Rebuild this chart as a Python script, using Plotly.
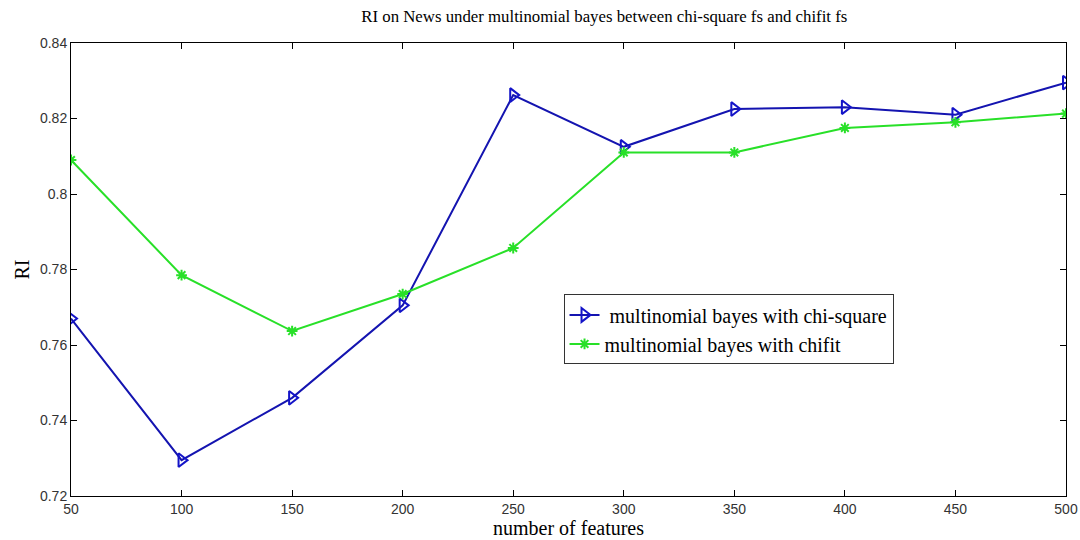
import plotly.graph_objects as go

features = [50, 100, 150, 200, 250, 300, 350, 400, 450, 500]
chi_square = [0.767, 0.7295, 0.746, 0.7705, 0.8262, 0.8125, 0.8225, 0.823, 0.821, 0.8295]
chifit = [0.809, 0.7785, 0.7637, 0.7735, 0.7857, 0.811, 0.811, 0.8175, 0.819, 0.8213]
y_ticks = [0.72, 0.74, 0.76, 0.78, 0.8, 0.82, 0.84]
y_tick_text = ["0.72", "0.74", "0.76", "0.78", "0.8", "0.82", "0.84"]

serif = "Liberation Serif, Times New Roman, serif"
sans = "Liberation Sans, Arial, sans-serif"

fig = go.Figure()
fig.add_trace(go.Scatter(
    x=features, y=chi_square, mode="lines+markers",
    name=" multinomial bayes with chi-square",
    line=dict(color="#1414b0", width=2),
    marker=dict(symbol="triangle-right-open", size=12, color="#1414c8", line=dict(width=2, color="#1414c8")),
))
fig.add_trace(go.Scatter(
    x=features, y=chifit, mode="lines+markers",
    name="multinomial bayes with chifit",
    line=dict(color="#28e028", width=2),
    marker=dict(symbol="asterisk-open", size=9, color="#28e028", line=dict(width=2, color="#28e028")),
))

axis_common = dict(
    showline=True, linecolor="black", linewidth=1, mirror="ticks",
    ticks="inside", ticklen=6, tickcolor="black", showgrid=False, zeroline=False,
    automargin=False,
    tickfont=dict(family=sans, size=14, color="#333"),
)
fig.update_xaxes(range=[50, 500], tickvals=features, ticklabeloverflow="allow",
                 title=dict(text="number of features", font=dict(family=serif, size=20, color="black"), standoff=2),
                 **axis_common)
fig.update_yaxes(range=[0.72, 0.84], tickvals=y_ticks, ticktext=y_tick_text,
                 title=dict(text="RI", font=dict(family=serif, size=20, color="black"), standoff=4),
                 **axis_common)

fig.update_layout(
    width=1080, height=540,
    margin=dict(l=71, r=14, t=43, b=44),
    paper_bgcolor="white", plot_bgcolor="white",
    title=dict(text="RI on News under multinomial bayes between chi-square fs and chifit fs",
               xref="paper", x=0.536, xanchor="center", y=0.97, yanchor="middle",
               font=dict(family=serif, size=16.8, color="black")),
    legend=dict(x=0.495, y=0.445, xanchor="left", yanchor="top",
                bgcolor="white", bordercolor="#333", borderwidth=1,
                font=dict(family=serif, size=20, color="black"),
                tracegroupgap=0, itemwidth=30),
    showlegend=True,
)

fig.write_html("out.html")
